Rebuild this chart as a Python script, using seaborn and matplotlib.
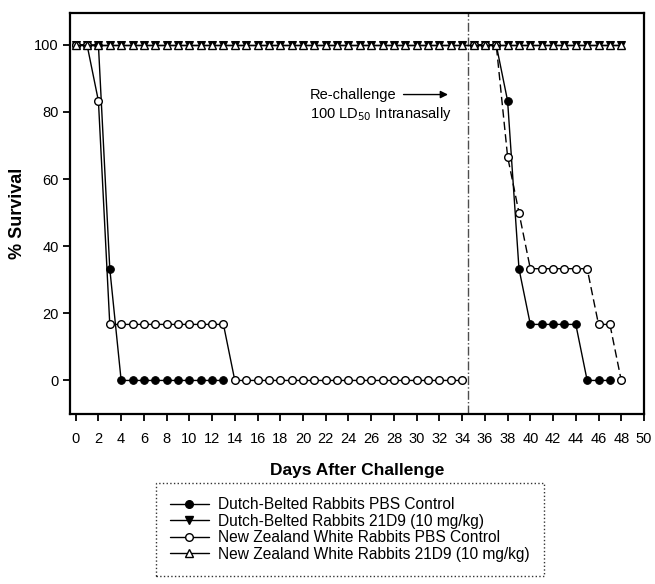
import matplotlib
matplotlib.use("Agg")
import matplotlib.pyplot as plt
from matplotlib.lines import Line2D
import seaborn as sns

# DATA

days_21d9 = list(range(0, 49))
db_21d9 = [100] * 49
nzw_21d9 = [100] * 49

# first challenge
db_pbs_days1 = list(range(0, 14))
db_pbs_surv1 = [100, 100, 100, 33.3, 0, 0, 0, 0, 0, 0, 0, 0, 0, 0]
nzw_pbs_days1 = list(range(0, 35))
nzw_pbs_surv1 = [100, 100, 83.3, 16.7, 16.7, 16.7, 16.7, 16.7, 16.7, 16.7,
                 16.7, 16.7, 16.7, 16.7, 0, 0, 0, 0, 0, 0, 0, 0, 0, 0, 0,
                 0, 0, 0, 0, 0, 0, 0, 0, 0, 0]

# re-challenge
db_pbs_days2 = list(range(35, 48))
db_pbs_surv2 = [100, 100, 100, 83.3, 33.3, 16.7, 16.7, 16.7, 16.7, 16.7, 0, 0, 0]
nzw_pbs_days2 = list(range(35, 49))
nzw_pbs_surv2 = [100, 100, 100, 66.7, 50, 33.3, 33.3, 33.3, 33.3, 33.3, 33.3,
                 16.7, 16.7, 0]

rechallenge_day = 34.5
x_ticks = list(range(0, 51, 2))
y_ticks = [0, 20, 40, 60, 80, 100]

LABELS = ["Dutch-Belted Rabbits PBS Control",
          "Dutch-Belted Rabbits 21D9 (10 mg/kg)",
          "New Zealand White Rabbits PBS Control",
          "New Zealand White Rabbits 21D9 (10 mg/kg)"]

# ESTILO

sns.set_theme(style="white")
plt.rcParams["font.family"] = ["Liberation Sans", "DejaVu Sans"]
plt.rcParams["text.color"] = "black"
plt.rcParams["axes.labelcolor"] = "black"
plt.rcParams["xtick.color"] = "black"
plt.rcParams["ytick.color"] = "black"

fig = plt.figure(figsize=(6.55, 5.84), dpi=100)
ax = fig.add_axes([70 / 655, 1 - 414 / 584, 574 / 655, 401 / 584])

MS = 5.5
filled_circle = dict(marker="o", markersize=MS, markerfacecolor="black",
                     markeredgecolor="black", color="black", linewidth=1)
down_tri = dict(marker="v", markersize=MS, markerfacecolor="black",
                markeredgecolor="black", color="black", linewidth=1)
open_circle = dict(marker="o", markersize=MS, markerfacecolor="white",
                   markeredgecolor="black", markeredgewidth=1, color="black", linewidth=1)
up_tri = dict(marker="^", markersize=MS, markerfacecolor="white",
              markeredgecolor="black", markeredgewidth=1, color="black", linewidth=1)

# CURVAS

sns.lineplot(x=db_pbs_days1, y=db_pbs_surv1, ax=ax, legend=False, **filled_circle)
sns.lineplot(x=db_pbs_days2, y=db_pbs_surv2, ax=ax, legend=False, **filled_circle)
sns.lineplot(x=days_21d9, y=db_21d9, ax=ax, legend=False, **down_tri)
sns.lineplot(x=nzw_pbs_days1, y=nzw_pbs_surv1, ax=ax, legend=False, **open_circle)
sns.lineplot(x=nzw_pbs_days2, y=nzw_pbs_surv2, ax=ax, legend=False,
             linestyle=(0, (6, 3)), **open_circle)
sns.lineplot(x=days_21d9, y=nzw_21d9, ax=ax, legend=False, **up_tri)

ax.axvline(rechallenge_day, color="0.3", linestyle="-.", linewidth=1, zorder=1)

ax.text(20.6, 85.2, "Re-challenge", fontsize=10.5, va="center", ha="left")
ax.text(20.6, 79.5, "100 LD$_{50}$ Intranasally", fontsize=10.5, va="center", ha="left")
ax.annotate("", xy=(33.0, 85.2), xytext=(28.6, 85.2),
            arrowprops=dict(arrowstyle="-|>", color="black", lw=1, mutation_scale=11))

# EJES

ax.set_xlim(-0.5, 50)
ax.set_ylim(-10, 109.5)
ax.set_xticks(x_ticks)
ax.set_yticks(y_ticks)
ax.tick_params(axis="both", which="major", direction="out", length=5, width=1.3,
               labelsize=10.5, bottom=True, left=True, top=False, right=False)
ax.tick_params(axis="x", pad=8)
ax.tick_params(axis="y", pad=3)
for s in ax.spines.values():
    s.set_color("black")
    s.set_linewidth(1.6)

ax.set_xlabel("Days After Challenge", fontsize=12.5, fontweight="bold", labelpad=12)
ax.set_ylabel("% Survival", fontsize=13, fontweight="bold", labelpad=6)

# LEYENDA

handles = [
    Line2D([], [], **filled_circle),
    Line2D([], [], **down_tri),
    Line2D([], [], **open_circle),
    Line2D([], [], **up_tri),
]
leg = fig.legend(handles, LABELS, loc="upper left",
                 bbox_to_anchor=(156 / 655, 1 - 483 / 584),
                 fontsize=11.2, frameon=True, fancybox=False, handlelength=2.5,
                 handletextpad=0.6, labelspacing=0.1, borderpad=0.9, borderaxespad=0)
leg.get_frame().set_edgecolor("black")
leg.get_frame().set_linewidth(1)
leg.get_frame().set_linestyle(":")

fig.savefig("out.png", dpi=100)
